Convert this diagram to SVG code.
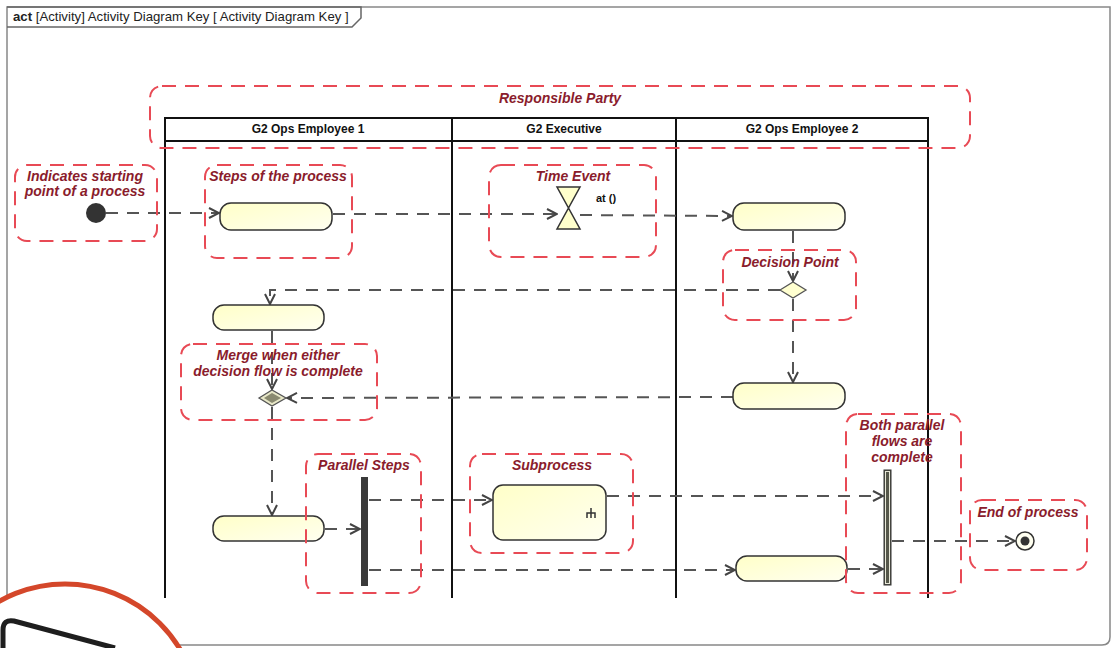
<svg xmlns="http://www.w3.org/2000/svg" width="1113" height="648" viewBox="0 0 1113 648">
<defs>
<linearGradient id="actg" x1="0" y1="0" x2="1" y2="1">
<stop offset="0" stop-color="#ffffc8"/>
<stop offset="1" stop-color="#fffff0"/>
</linearGradient>
<marker id="arr" viewBox="0 0 12 12" refX="11" refY="6" markerWidth="12" markerHeight="12" markerUnits="userSpaceOnUse" orient="auto">
<path d="M1,1 L11,6 L1,11" fill="none" stroke="#444" stroke-width="2"/>
</marker>
</defs>
<style>
.note{fill:none;stroke:#e84a55;stroke-width:2;stroke-dasharray:14 9}
.nt{font-family:"Liberation Sans",Arial,sans-serif;font-size:14px;font-weight:bold;font-style:italic;fill:#8a1c2c;text-anchor:middle}
.hd{font-family:"Liberation Sans",Arial,sans-serif;font-size:12px;font-weight:bold;fill:#111;text-anchor:middle}
.act{fill:url(#actg);stroke:#333;stroke-width:1.5}
.flow{fill:none;stroke:#555;stroke-width:2;stroke-dasharray:12 9;marker-end:url(#arr)}
.lane{fill:none;stroke:#111;stroke-width:2}
</style>
<rect width="1113" height="648" fill="#fff"/>
<g id="frame">
<path d="M7,7 H1110 V637 Q1110,645 1102,645 H7 Z" fill="#fff" stroke="#888" stroke-width="1.5"/>
<path d="M7,7 H361 V18 L352,27 H7" fill="none" stroke="#666" stroke-width="1.5"/>
<text x="13" y="21" font-family="Liberation Sans,Arial,sans-serif" font-size="13.2" fill="#222"><tspan font-weight="bold">act</tspan> [Activity] Activity Diagram Key [ Activity Diagram Key ]</text>
</g>
<g id="lanes">
<rect x="165" y="118" width="763" height="23" class="lane"/>
<line x1="165" y1="141" x2="165" y2="598" class="lane"/>
<line x1="452" y1="118" x2="452" y2="598" class="lane"/>
<line x1="676" y1="118" x2="676" y2="598" class="lane"/>
<line x1="928" y1="141" x2="928" y2="598" class="lane"/>
<text x="308" y="133" class="hd">G2 Ops Employee 1</text>
<text x="564" y="133" class="hd">G2 Executive</text>
<text x="802" y="133" class="hd">G2 Ops Employee 2</text>
</g>
<g id="connectors">
<line x1="106" y1="213" x2="219" y2="213" class="flow"/>
<line x1="333" y1="214" x2="557" y2="214" class="flow"/>
<line x1="580" y1="215" x2="732" y2="216" class="flow"/>
<line x1="793" y1="231" x2="793" y2="281" class="flow"/>
<polyline points="780,290 270,290 270,304" class="flow"/>
<line x1="793" y1="299" x2="793" y2="382" class="flow"/>
<line x1="272" y1="331" x2="272" y2="389" class="flow"/>
<line x1="733" y1="397" x2="287" y2="398" class="flow"/>
<line x1="272" y1="407" x2="272" y2="515" class="flow"/>
<line x1="325" y1="529" x2="360" y2="529" class="flow"/>
<line x1="369" y1="500" x2="492" y2="500" class="flow"/>
<line x1="369" y1="570" x2="735" y2="570" class="flow"/>
<line x1="607" y1="496" x2="883" y2="496" class="flow"/>
<line x1="848" y1="569" x2="883" y2="569" class="flow"/>
<line x1="892" y1="541" x2="1015" y2="541" class="flow"/>
</g>
<g id="start">
<circle cx="96" cy="213" r="10" fill="#333"/>
</g>
<g id="act1"><rect x="220" y="203" width="112" height="27" rx="11" class="act"/></g>
<g id="timeEvent">
<path d="M557,187 H580 L557,229 H580 Z" fill="#ffffcc" stroke="#333" stroke-width="1.5"/>
<text x="596" y="202" font-family="Liberation Sans,Arial,sans-serif" font-size="11" font-weight="bold" fill="#111">at ()</text>
</g>
<g id="act2"><rect x="733" y="203" width="112" height="27" rx="11" class="act"/></g>
<g id="decision"><path d="M780,290 L793,282 L806,290 L793,298 Z" fill="#ffffd0" stroke="#555" stroke-width="1.3"/></g>
<g id="act3"><rect x="213" y="305" width="111" height="25" rx="11" class="act"/></g>
<g id="act4"><rect x="733" y="383" width="112" height="26" rx="11" class="act"/></g>
<g id="merge">
<path d="M259,398 L272,390 L286,398 L272,406 Z" fill="#e8e8c8" stroke="#555" stroke-width="1.3"/>
<path d="M264,398 L272,393 L281,398 L272,403 Z" fill="#8a8a70"/>
</g>
<g id="act5"><rect x="213" y="516" width="111" height="25" rx="11" class="act"/></g>
<g id="fork"><rect x="361" y="477" width="7" height="109" fill="#3a3a3a"/></g>
<g id="subprocess">
<rect x="493" y="485" width="113" height="55" rx="10" class="act"/>
<path d="M591,508 V518 M587,518 V513 H595 V518" fill="none" stroke="#333" stroke-width="1.5"/>
</g>
<g id="act6"><rect x="736" y="556" width="111" height="25" rx="11" class="act"/></g>
<g id="join"><rect x="884" y="470" width="7" height="115" fill="#55574a" stroke="#333" stroke-width="1"/><rect x="885.5" y="471.5" width="4" height="112" fill="none" stroke="#e8e8d8" stroke-width="1"/></g>
<g id="final">
<circle cx="1025" cy="541" r="9" fill="#fffff0" stroke="#333" stroke-width="1.5"/>
<circle cx="1025" cy="541" r="4.5" fill="#333"/>
</g>
<g id="notes">
<rect x="150" y="86" width="820" height="62" rx="12" class="note"/>
<text x="560" y="103" class="nt">Responsible Party</text>
<rect x="15" y="165" width="142" height="76" rx="12" class="note"/>
<text x="85" y="181" class="nt">Indicates starting</text>
<text x="85" y="196" class="nt">point of a process</text>
<rect x="205" y="165" width="147" height="93" rx="12" class="note"/>
<text x="278" y="181" class="nt">Steps of the process</text>
<rect x="489" y="165" width="167" height="92" rx="12" class="note"/>
<text x="573" y="181" class="nt">Time Event</text>
<rect x="723" y="250" width="133" height="70" rx="12" class="note"/>
<text x="790" y="267" class="nt">Decision Point</text>
<rect x="181" y="344" width="196" height="76" rx="12" class="note"/>
<text x="278" y="360" class="nt">Merge when either</text>
<text x="278" y="376" class="nt">decision flow is complete</text>
<rect x="306" y="454" width="115" height="139" rx="12" class="note"/>
<text x="364" y="470" class="nt">Parallel Steps</text>
<rect x="470" y="454" width="163" height="99" rx="12" class="note"/>
<text x="552" y="470" class="nt">Subprocess</text>
<rect x="846" y="414" width="115" height="179" rx="12" class="note"/>
<text x="902" y="430" class="nt">Both parallel</text>
<text x="902" y="446" class="nt">flows are</text>
<text x="902" y="462" class="nt">complete</text>
<rect x="970" y="500" width="117" height="70" rx="12" class="note"/>
<text x="1028" y="517" class="nt">End of process</text>
</g>
<g id="overlay">
<circle cx="65" cy="718" r="134" fill="#fff" stroke="#d4472a" stroke-width="5"/>
<path d="M3,648 V630 Q3,619 14,621 L115,648" fill="none" stroke="#1e1e1e" stroke-width="5"/>
</g>
</svg>
